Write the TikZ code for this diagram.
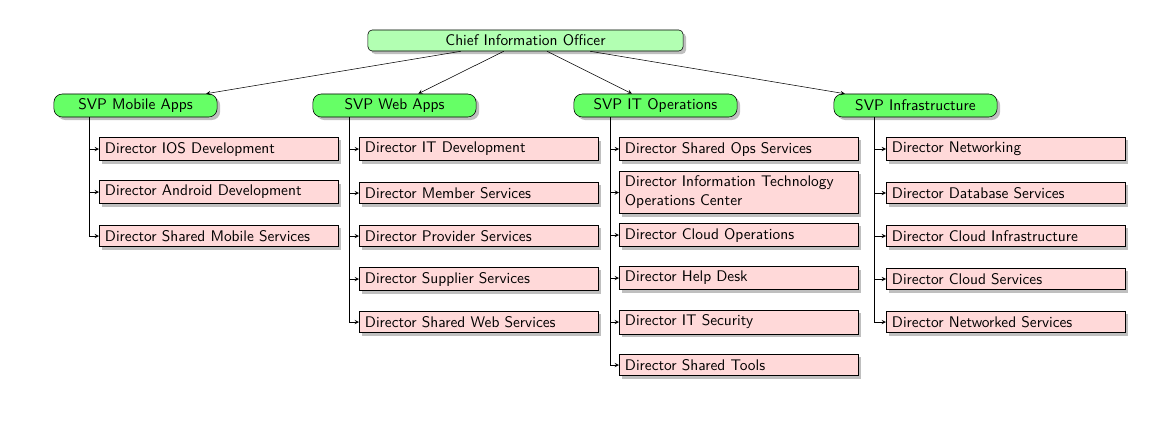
\documentclass[tikz,border=0pt]{standalone}
\usepackage{tikz}
\usetikzlibrary{shadows}
\definecolor{cioGreen}{rgb}{0.7,1.0,0.7}
\definecolor{svpGreen}{rgb}{0.4,1.0,0.4}
\definecolor{dirPink}{rgb}{1.0,0.85,0.85}

\tikzset{
  every node/.style={font=\fontsize{10.95}{13.6}\selectfont\sffamily},
  ciobox/.style={draw, fill=cioGreen, rounded corners=3pt, drop shadow,
    minimum width=7.875cm, minimum height=0.525cm, inner sep=0pt},
  svpbox/.style={draw, fill=svpGreen, rounded corners=6pt, drop shadow,
    minimum width=4.08cm, minimum height=0.575cm, inner sep=0pt},
  dirbox/.style={draw, fill=dirPink, drop shadow, anchor=west,
    inner xsep=4pt, text width=5.69cm, align=flush left, minimum height=0.53cm},
  toplink/.style={-stealth, thin},
  fork/.style={-stealth, thin}
}

\begin{document}
\begin{tikzpicture}[x=0.025cm, y=-0.025cm]
                \useasboundingbox (0,0) rectangle (1159,428);

                % 1. Top of the chart
                \node[ciobox] (cio) at (525.5,40.5) {Chief Information Officer};

                \node[svpbox] (svpMobile) at (135.5,105.5) {SVP Mobile Apps};
                \node[svpbox] (svpWeb) at (394.5,105.5) {SVP Web Apps};
                \node[svpbox] (svpOps) at (655.5,105.5) {SVP IT Operations};
                \node[svpbox] (svpInfra) at (915.5,105.5) {SVP Infrastructure};

                \draw[toplink] (cio) -- (svpMobile);
                \draw[toplink] (cio) -- (svpWeb);
                \draw[toplink] (cio) -- (svpOps);
                \draw[toplink] (cio) -- (svpInfra);

                % 2. Directors, Mobile Apps
                \coordinate (forkMobile) at (89,117);
                \node[dirbox] (dirIOS) at (99,149) {Director IOS Development};
                \node[dirbox] (dirAndroid) at (99,192) {Director Android Development};
                \node[dirbox] (dirSharedMobile) at (99,236) {Director Shared Mobile Services};
                \draw[fork] (forkMobile) |- (dirIOS.west);
                \draw[fork] (forkMobile) |- (dirAndroid.west);
                \draw[fork] (forkMobile) |- (dirSharedMobile.west);

                % 3. Directors, Web Apps
                \coordinate (forkWeb) at (349.5,117);
                \node[dirbox] (dirITDev) at (359,149) {Director IT Development};
                \node[dirbox] (dirMember) at (359,193) {Director Member Services};
                \node[dirbox] (dirProvider) at (359,236) {Director Provider Services};
                \node[dirbox] (dirSupplier) at (359,279) {Director Supplier Services};
                \node[dirbox] (dirSharedWeb) at (359,322) {Director Shared Web Services};
                \draw[fork] (forkWeb) |- (dirITDev.west);
                \draw[fork] (forkWeb) |- (dirMember.west);
                \draw[fork] (forkWeb) |- (dirProvider.west);
                \draw[fork] (forkWeb) |- (dirSupplier.west);
                \draw[fork] (forkWeb) |- (dirSharedWeb.west);

                % 4. Directors, IT Operations
                \coordinate (forkOps) at (610,117);
                \node[dirbox] (dirSharedOps) at (619,149) {Director Shared Ops Services};
                \node[dirbox] (dirITOC) at (619,192.5) {Director Information Technology Operations Center};
                \node[dirbox] (dirCloudOps) at (619,235) {Director Cloud Operations};
                \node[dirbox] (dirHelpDesk) at (619,278) {Director Help Desk};
                \node[dirbox] (dirSecurity) at (619,322) {Director IT Security};
                \node[dirbox] (dirTools) at (619,365) {Director Shared Tools};
                \draw[fork] (forkOps) |- (dirSharedOps.west);
                \draw[fork] (forkOps) |- (dirITOC.west);
                \draw[fork] (forkOps) |- (dirCloudOps.west);
                \draw[fork] (forkOps) |- (dirHelpDesk.west);
                \draw[fork] (forkOps) |- (dirSecurity.west);
                \draw[fork] (forkOps) |- (dirTools.west);

                % 5. Directors, Infrastructure
                \coordinate (forkInfra) at (874,117);
                \node[dirbox] (dirNetworking) at (886,149) {Director Networking};
                \node[dirbox] (dirDatabase) at (886,193) {Director Database Services};
                \node[dirbox] (dirCloudInfra) at (886,236) {Director Cloud Infrastructure};
                \node[dirbox] (dirCloudServ) at (886,279) {Director Cloud Services};
                \node[dirbox] (dirNetworked) at (886,322) {Director Networked Services};
                \draw[fork] (forkInfra) |- (dirNetworking.west);
                \draw[fork] (forkInfra) |- (dirDatabase.west);
                \draw[fork] (forkInfra) |- (dirCloudInfra.west);
                \draw[fork] (forkInfra) |- (dirCloudServ.west);
                \draw[fork] (forkInfra) |- (dirNetworked.west);
            \end{tikzpicture}
\end{document}
